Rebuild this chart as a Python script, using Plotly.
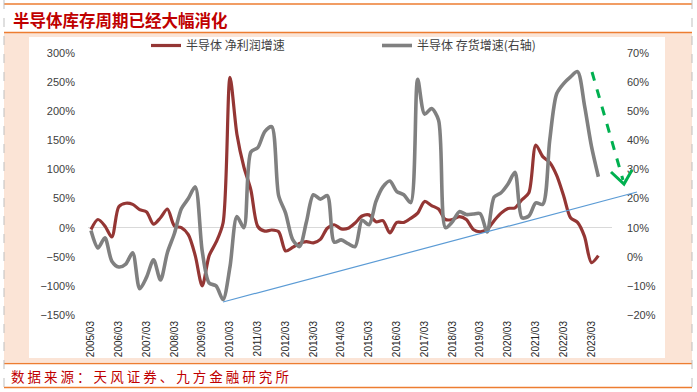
import plotly.graph_objects as go

# ---------------- data ----------------
years = list(range(2005, 2024))
quarters = [f"{y}/{m:02d}" for y in years for m in (3, 6, 9, 12)][:74]  # 2005/03 .. 2023/06
tick_labels = [f"{y}/03" for y in years]

net_profit_growth = [-3, 14, 3, -16, 36, 42, 40, 31, 27, 6,
                     17, 32, 3, 0, -12, -48, -100, -48, -25, 8,
                     258, 160, 104, 65, 2, -6, -4, -7, -40, -34,
                     -27, -24, -26, -20, -1, 5, -2, -1, 8, 20,
                     22, 10, 12, -9, 9, 9, 16, 25, 45, 38,
                     32, 14, 14, 19, 14, -3, -7, -3, 12, 25,
                     33, 34, 48, 60, 142, 122, 112, 90, 55, 17,
                     9, -15, -60, -48]

inventory_growth = [9, 3, 6.5, -1.5, -3.5, -2.5, 1.4, -11, -7, -1,
                    -8, 1.5, 8, 16.5, 20, 24, 2, -9, -10, -14.7,
                    -3.4, 13.8, 10, 36, 37.5, 43, 44.7, 21, 15, 6,
                    3.5, 12, 21.3, 19.8, 21, 5, 5.8, 4.5, 3.5, 12.5,
                    11, 19, 24, 26, 22.4, 21.3, 18.6, 61, 49, 50.9,
                    47, 10, 12, 15.5, 14.5, 14.7, 14.8, 8.5, 20.5, 22,
                    25, 29, 13.4, 14, 18.5, 18, 40, 56, 59.5, 61.8,
                    63.6, 52, 38, 27.5]

name_profit = "半导体 净利润增速"
name_inv = "半导体 存货增速(右轴)"
title_text = "半导体库存周期已经大幅消化"
source_text = "数据来源：天风证券、九方金融研究所"

# ---------------- layout geometry (pixels) ----------------
W, H = 697, 392
PL, PR, PT, PB = 88, 612, 53, 315  # plot area


def px(x):
    return (x - PL) / (PR - PL)


def py(y):
    return (PB - y) / (PB - PT)


CJK = "Noto Sans CJK SC"
NUM = "Liberation Sans, Arial, sans-serif"
RED_TXT = "#C00000"
ORANGE = "#ED7D31"
PEACH = "#FBE4D6"

fig = go.Figure()
fig.add_trace(go.Scatter(
    x=quarters, y=net_profit_growth, name=name_profit, mode="lines",
    line=dict(color="#943634", width=3.2, shape="spline", smoothing=0.8),
    yaxis="y"))
fig.add_trace(go.Scatter(
    x=quarters, y=inventory_growth, name=name_inv, mode="lines",
    line=dict(color="#808080", width=3.6, shape="spline", smoothing=0.8),
    yaxis="y2"))

shapes = []
# frame backgrounds
shapes.append(dict(type="rect", xref="paper", yref="paper", layer="below",
                   x0=px(4), x1=px(692), y0=py(362), y1=py(33),
                   fillcolor=PEACH, line=dict(width=0)))
shapes.append(dict(type="rect", xref="paper", yref="paper", layer="below",
                   x0=px(29), x1=px(665), y0=py(358), y1=py(37),
                   fillcolor="white", line=dict(width=0)))
# orange rules
for yy in (4, 32.5, 363.5, 387.5):
    shapes.append(dict(type="line", xref="paper", yref="paper",
                       x0=px(4), x1=px(692), y0=py(yy), y1=py(yy),
                       line=dict(color=ORANGE, width=1.5)))
# dashed gray side borders
for xx in (4, 692):
    shapes.append(dict(type="line", xref="paper", yref="paper",
                       x0=px(xx), x1=px(xx), y0=py(0), y1=py(392),
                       line=dict(color="#BFBFBF", width=1, dash="dash")))
# blue trend line (annotation)
shapes.append(dict(type="line", xref="paper", yref="paper",
                   x0=px(223), y0=py(302), x1=px(637), y1=py(192),
                   line=dict(color="#5B9BD5", width=1.2)))
# green dashed arrow (annotation)
shapes.append(dict(type="line", xref="paper", yref="paper",
                   x0=px(592), y0=py(72), x1=px(623), y1=py(180),
                   line=dict(color="#00B050", width=3, dash="dash")))
shapes.append(dict(type="path", xref="paper", yref="paper",
                   path=(f"M {px(611)},{py(172)} L {px(624)},{py(184)} "
                         f"L {px(632)},{py(170)}"),
                   line=dict(color="#00B050", width=3)))

annotations = [
    dict(text=f"<b>{title_text}</b>", xref="paper", yref="paper",
         x=px(11), y=py(20), xanchor="left", yanchor="middle", showarrow=False,
         font=dict(family=CJK, size=16.5, color=RED_TXT)),
    dict(text=" ".join(list(source_text)), xref="paper", yref="paper",
         x=px(9), y=py(375.5), xanchor="left", yanchor="middle", showarrow=False,
         font=dict(family=CJK, size=13.5, color=RED_TXT)),
]

fig.update_layout(
    width=W, height=H,
    margin=dict(l=PL, r=W - PR, t=PT, b=H - PB, pad=0, autoexpand=False),
    paper_bgcolor="white", plot_bgcolor="white",
    showlegend=True,
    legend=dict(orientation="h", x=px(146), y=py(31), xanchor="left", yanchor="top",
                entrywidth=186, entrywidthmode="pixels",
                font=dict(family=CJK, size=12, color="#404040"),
                bgcolor="rgba(0,0,0,0)", itemclick=False),
    xaxis=dict(type="category", range=[-0.43, 74.96],
               tickmode="array", tickvals=tick_labels, ticktext=tick_labels,
               tickangle=-90, showgrid=False, zeroline=False, showline=False,
               ticks="", ticklabelstandoff=3,
               tickfont=dict(family=NUM, size=10, color="#262626")),
    yaxis=dict(range=[-150, 300], dtick=50, ticksuffix="%", showgrid=False,
               zeroline=True, zerolinecolor="#D9D9D9", zerolinewidth=1,
               showline=False, ticks="", ticklabelstandoff=12,
               tickfont=dict(family=NUM, size=11, color="#404040")),
    yaxis2=dict(range=[-20, 70], dtick=10, ticksuffix="%", overlaying="y",
                side="right", showgrid=False, zeroline=False, showline=False,
                ticks="", ticklabelstandoff=14,
                tickfont=dict(family=NUM, size=11, color="#404040")),
    shapes=shapes,
    annotations=annotations,
)

fig.write_html("out.html", config={"displayModeBar": False},
               post_script="document.body.style.margin='0';document.body.style.overflow='hidden';")
